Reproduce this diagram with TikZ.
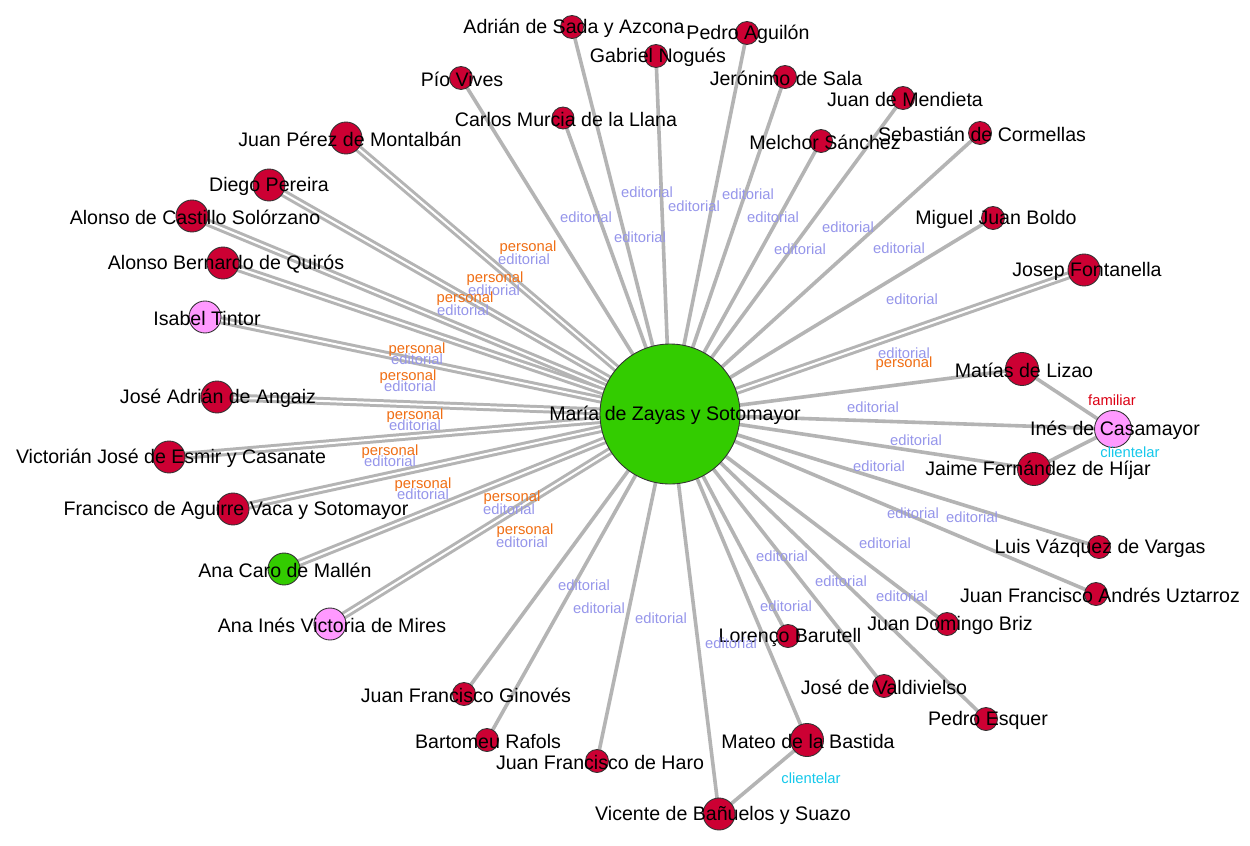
\documentclass[tikz,border=0pt]{standalone}
\usepackage{fontspec}
\setmainfont{Liberation Sans}
\usepackage[RGB]{xcolor}
\usepackage{tikz}
\usetikzlibrary{backgrounds}
\definecolor{C}{RGB}{204,0,51}
\definecolor{F}{RGB}{51,204,0}
\definecolor{P}{RGB}{255,153,255}
\definecolor{G}{RGB}{180,180,180}
\definecolor{E}{RGB}{150,150,235}
\definecolor{O}{RGB}{240,110,20}
\definecolor{M}{RGB}{220,0,20}
\definecolor{K}{RGB}{20,200,235}
\newcommand{\tielabel}[4]{\node[tielbl, text=#1] (#2) at (#3) {#4};}
\tikzset{
  actor/.style={circle, draw=black!80, line width=0.5pt, inner sep=0pt, minimum size=#1*0.02cm},
  actorlbl/.style={font=\fontsize{11.15}{13}\selectfont, inner sep=0pt, yshift=-0.03cm},
  tielbl/.style={font=\fontsize{8.4}{10}\selectfont, inner sep=0pt},
  tie/.style={G, line width=2.05pt},
  dualtie/.style={G, line width=1.7pt, double=white, double distance=1.15pt}
}
\begin{document}
\begin{tikzpicture}[x=0.02cm, y=-0.02cm]
\useasboundingbox (0,0) rectangle (1250,845);
\node[actor=140, fill=F, label={[actorlbl, name=zayas-t, xshift=0.1cm]center:María de Zayas y Sotomayor}] (zayas) at (670,414) {};
\foreach \n/\x/\y/\sz/\col/\dx/\lab in {
  sada/572/27/23/C/2/Adrián de Sada y Azcona,
  aguilon/747/33/23/C/1/Pedro Aguilón,
  nogues/656/56/23/C/2/Gabriel Nogués,
  vives/461/78/23/C/1/Pío Vives,
  sala/785/77/23/C/1/Jerónimo de Sala,
  mendieta/903/98/23/C/2/Juan de Mendieta,
  murcia/563/118/22/C/3/Carlos Murcia de la Llana,
  cormellas/980/133/23/C/2/Sebastián de Cormellas,
  sanchez/821/141/23/C/4/Melchor Sánchez,
  boldo/993/218/23/C/3/Miguel Juan Boldo,
  montalban/346/138/32/C/4/Juan Pérez de Montalbán,
  pereira/269/185/32/C/0/Diego Pereira,
  castillo/192/216/32/C/3/Alonso de Castillo Solórzano,
  quiros/223/263/32/C/3/Alonso Bernardo de Quirós,
  tintor/205/317/32/P/2/Isabel Tintor,
  angaiz/217/397/32/C/1/José Adrián de Angaiz,
  esmir/169/457/32/C/2/Victorián José de Esmir y Casanate,
  aguirre/233/509/32/C/3/Francisco de Aguirre Vaca y Sotomayor,
  caro/284/569/32/F/1/Ana Caro de Mallén,
  mires/330/624/32/P/2/Ana Inés Victoria de Mires,
  ginoves/464/694/23/C/2/Juan Francisco Ginovés,
  rafols/487/740/23/C/1/Bartomeu Rafols,
  haro/597/761/23/C/3/Juan Francisco de Haro,
  vicente/719/814/32/C/4/Vicente de Bañuelos y Suazo,
  bastida/807/740/33/C/1/Mateo de la Bastida,
  barutell/788/636/23/C/2/Lorenço Barutell,
  valdivielso/884/686/23/C/0/José de Valdivielso,
  esquer/986/719/23/C/2/Pedro Esquer,
  briz/947/624/23/C/3/Juan Domingo Briz,
  uztarroz/1096/594/23/C/4/Juan Francisco Andrés Uztarroz,
  vargas/1099/547/23/C/1/Luis Vázquez de Vargas,
  hijar/1034/469/33/C/4/Jaime Fernández de Híjar,
  casamayor/1113/429/37/P/2/Inés de Casamayor,
  lizao/1022/369/33/C/2/Matías de Lizao,
  fontanella/1084/270/32/C/3/Josep Fontanella}
  \node[actor=\sz, fill=\col, label={[actorlbl, name=\n-t, xshift=\dx*0.02cm]center:\lab}] (\n) at (\x,\y) {};
\begin{scope}[on background layer]
  \fill[white] (0,0) rectangle (1250,845);
  \foreach \n in {sada,aguilon,nogues,vives,sala,mendieta,murcia,cormellas,sanchez,boldo,lizao,casamayor,hijar,vargas,uztarroz,briz,barutell,valdivielso,esquer,bastida,vicente,haro,rafols,ginoves}
    \draw[tie] (zayas.center) -- (\n.center);
  \foreach \n in {montalban,pereira,castillo,quiros,tintor,angaiz,esmir,aguirre,caro,mires,fontanella}
    \draw[dualtie] (zayas.center) -- (\n.center);
  \draw[tie] (lizao.center) -- (casamayor.center) -- (hijar.center);
  \draw[tie] (bastida.center) -- (vicente.center);
\end{scope}
% edge labels
\foreach \i/\pos in {1/{647,192},2/{694,206},3/{586,217},4/{640,237},5/{748,194},6/{773,217},7/{848,227},8/{800,249},9/{899,248},10/{912,299},
  11/{873,407},12/{916,440},13/{879,466},14/{913,513},15/{972,517},16/{885,543},17/{782,556},18/{841,581},19/{902,596},20/{786,606},
  21/{584,585},22/{599,608},23/{661,618},24/{731,643},25/{904,353}}
  \node[tielbl, text=E] (ed\i) at (\pos) {editorial};
\foreach \i/\px/\py/\ex/\ey in {1/528/248/524/259,2/495/279/494/290,3/465/299/463/310,4/417/350/417/359,5/408/377/410/386,
  6/415/416/415/425,7/390/452/390/461,8/423/485/423/494,9/512/498/509/509,10/525/531/522/542}{
  \node[tielbl, text=O] (pe\i) at (\px,\py) {personal};
  \node[tielbl, text=E] (ep\i) at (\ex,\ey) {editorial};
}
\tielabel{O}{pe11}{904,364}{personal}
\tielabel{M}{fam1}{1112,400}{familiar}
\tielabel{K}{cli1}{1130,452}{clientelar}
\tielabel{K}{cli2}{811,778}{clientelar}
\end{tikzpicture}
\end{document}
